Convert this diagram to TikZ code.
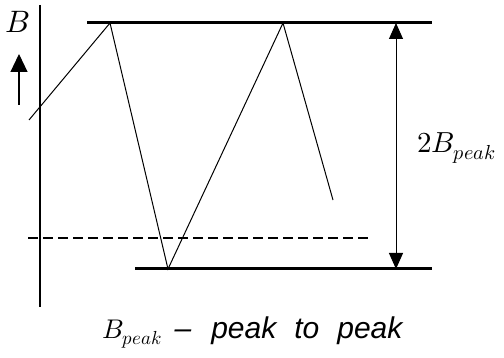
\documentclass[tikz,border=0pt]{standalone}
\usepackage{fontspec}
\usepackage{unicode-math}
\newfontfamily\capfont{Liberation Sans}
\usetikzlibrary{arrows.meta}

\begin{document}
\begin{tikzpicture}[x=0.5pt,y=-0.5pt,
 ax/.style={line width=1.4pt},
 lvl/.style={line width=1.5pt},
 wave/.style={line width=0.5pt},
 mean/.style={line width=1pt,dash pattern=on 5pt off 2.5pt},
 dim/.style={{Triangle[length=8pt,width=7pt]}-{Triangle[length=8pt,width=7pt]},line width=0.5pt},
 up/.style={-{Triangle[length=9pt,width=8.5pt]},line width=0.6pt},
 t/.style={inner sep=0pt}]
\useasboundingbox (0,0) rectangle (504,358);
% axis
\coordinate (ytop) at (40,5);
\coordinate (ybot) at (40,307);
\draw[ax] (ytop)--(ybot);
\node[t,font=\fontsize{15.5}{18}\selectfont] (blab) at (18,22) {$B$};
\coordinate (arr0) at (19,105);
\coordinate (arr1) at (19,54);
\draw[up] (arr0)--(arr1);
% peak levels
\coordinate (top0) at (87,23);
\coordinate (top1) at (432,23);
\coordinate (bot0) at (135,269);
\coordinate (bot1) at (432,269);
\draw[lvl] (top0)--(top1);
\draw[lvl] (bot0)--(bot1);
% zero line
\coordinate (m0) at (28,238);
\coordinate (m1) at (370,238);
\draw[mean] (m0)--(m1);
% flux
\coordinate (w0) at (29,120);
\coordinate (w1) at (110,23);
\coordinate (w2) at (168,269);
\coordinate (w3) at (283,23);
\coordinate (w4) at (333,200);
\draw[wave] (w0)--(w1)--(w2)--(w3)--(w4);
% span
\coordinate (d0) at (396,23);
\coordinate (d1) at (396,269);
\draw[dim] (d0)--(d1);
\node[t,anchor=west,font=\fontsize{14.5}{17}\selectfont] (span) at (417,148) {$2B_{peak}$};
% caption
\node[t,anchor=base west,font=\fontsize{13.5}{16}\selectfont] (cap) at (102,338)
 {$B_{peak}$\hspace{6pt}{\capfont\itshape\fontsize{15}{18}\selectfont \textendash\hspace{10pt}peak\hspace{9pt}to\hspace{9pt}peak}};
\end{tikzpicture}
\end{document}
